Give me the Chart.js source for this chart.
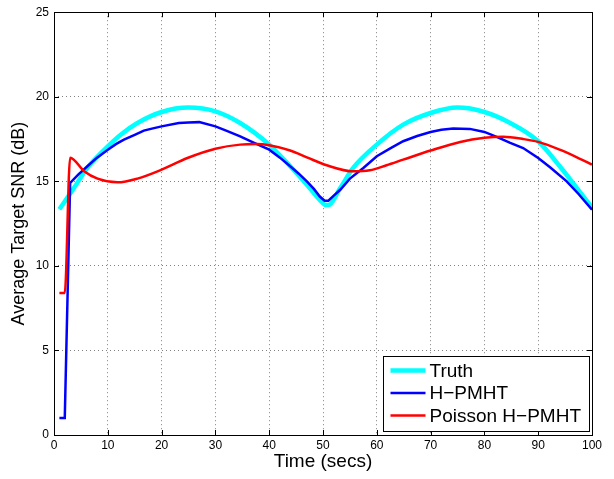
<!DOCTYPE html>
<html>
<head>
<meta charset="utf-8">
<script src="https://cdn.jsdelivr.net/npm/chart.js@4.4.1/dist/chart.umd.min.js"></script>
<style>
  html, body { margin:0; padding:0; background:#fff; }
  #wrap { width:614px; height:479px; }
</style>
</head>
<body>
<div id="wrap"><canvas id="snr" width="614" height="479"></canvas></div>
<script>
// values
const truthTime = [1, 3.7, 6.2, 10, 12.4, 15.5, 20, 25, 30, 34.6, 40, 43.9, 47, 49.4, 50.5, 51, 53.2, 55.6, 60, 64.9, 70, 75, 80, 84.8, 90, 94, 97.2, 100];
const truthSnr  = [13.35, 14.6, 15.8, 17.07, 17.76, 18.45, 19.1, 19.36, 19.14, 18.45, 17.17, 15.89, 14.8, 13.9, 13.6, 13.6, 14.6, 15.79, 17.17, 18.35, 19.04, 19.36, 19.1, 18.45, 17.37, 15.89, 14.6, 13.45];

const hpmhtTime = [1, 2, 3, 4.5, 6.2, 8, 10, 11.5, 13, 15, 16.7, 18, 20, 23.2, 25, 27, 30, 32, 34.6, 37, 40, 42, 43.9, 45.5, 47, 48.3, 49.4, 50.3, 51, 52, 53.2, 55, 57.5, 60, 62.5, 64.9, 67.5, 70, 72, 74.2, 77.3, 80, 82.5, 84.8, 87.2, 90, 92.2, 95.3, 97.5, 100];
const hpmhtSnr  = [1.0, 1.0, 14.9, 15.4, 15.89, 16.4, 16.87, 17.2, 17.47, 17.75, 18.0, 18.1, 18.25, 18.45, 18.48, 18.5, 18.25, 18.0, 17.66, 17.3, 16.87, 16.4, 15.89, 15.45, 15.0, 14.55, 14.1, 13.85, 13.85, 14.15, 14.5, 15.16, 15.79, 16.48, 16.95, 17.37, 17.68, 17.92, 18.05, 18.12, 18.1, 17.92, 17.6, 17.27, 16.97, 16.38, 15.83, 15.0, 14.25, 13.32];

const poissonTime = [1, 2, 3, 5.6, 8.1, 11.8, 15.5, 20, 24.8, 30, 34.6, 37.7, 40, 43.9, 47, 50.7, 55.6, 58.7, 61.8, 64.9, 70, 75.5, 80, 83.5, 87.2, 90, 94, 97.2, 100];
const poissonSnr  = [8.4, 8.4, 16.4, 15.6, 15.16, 14.94, 15.16, 15.69, 16.38, 16.93, 17.17, 17.2, 17.13, 16.82, 16.42, 15.95, 15.59, 15.65, 15.95, 16.28, 16.82, 17.33, 17.57, 17.63, 17.5, 17.33, 16.87, 16.42, 15.99];

const seriesNames = ['Truth', 'H\u2212PMHT', 'Poisson H\u2212PMHT'];
const xTicks = [0, 10, 20, 30, 40, 50, 60, 70, 80, 90, 100];
const yTicks = [0, 5, 10, 15, 20, 25];

const FONT = "'Liberation Sans', Arial, Helvetica, sans-serif";

function pts(xs, ys){ return xs.map((x, i) => ({x, y: ys[i]})); }

// matlab style box, inward ticks and legend
const axesBox = {
  id: 'axesBox',
  afterDraw(chart){
    const ctx = chart.ctx, a = chart.chartArea;
    const xs = chart.scales.x, ys = chart.scales.y;
    ctx.save();
    ctx.strokeStyle = '#000';
    ctx.lineWidth = 1;
    ctx.beginPath();
    xTicks.forEach(v => {
      const px = Math.round(xs.getPixelForValue(v)) + 0.5;
      ctx.moveTo(px, a.bottom); ctx.lineTo(px, a.bottom - 5);
      ctx.moveTo(px, a.top); ctx.lineTo(px, a.top + 5);
    });
    yTicks.forEach(v => {
      const py = Math.round(ys.getPixelForValue(v)) + 0.5;
      ctx.moveTo(a.left, py); ctx.lineTo(a.left + 5, py);
      ctx.moveTo(a.right, py); ctx.lineTo(a.right - 5, py);
    });
    ctx.stroke();
    ctx.strokeRect(Math.round(a.left) + 0.5, Math.round(a.top) + 0.5,
                   Math.round(a.right - a.left), Math.round(a.bottom - a.top));

    // legend
    const w = 206, h = 75;
    const x0 = Math.round(a.right - 3 - w) + 0.5, y0 = Math.round(a.bottom - 4 - h) + 0.5;
    ctx.fillStyle = '#fff';
    ctx.fillRect(x0, y0, w, h);
    ctx.strokeRect(x0, y0, w, h);
    ctx.font = '19px ' + FONT;
    ctx.textBaseline = 'middle';
    ctx.textAlign = 'left';
    chart.data.datasets.forEach((ds, i) => {
      const y = y0 + 14 + i * 22.5;
      ctx.strokeStyle = ds.borderColor;
      ctx.lineWidth = ds.borderWidth;
      ctx.beginPath(); ctx.moveTo(x0 + 7, y); ctx.lineTo(x0 + 42, y); ctx.stroke();
      ctx.fillStyle = '#000';
      ctx.fillText(ds.label, x0 + 46, y + 1);
    });
    ctx.restore();
  }
};

const line = (label, data, color, width, order, smooth) => ({
  label, data, borderColor: color, backgroundColor: color, borderWidth: width,
  pointRadius: 0, fill: false, order,
  cubicInterpolationMode: smooth ? 'monotone' : 'default', tension: 0
});

new Chart(document.getElementById('snr'), {
  type: 'line',
  data: {
    datasets: [
      line(seriesNames[0], pts(truthTime, truthSnr), '#00ffff', 4.5, 3, true),
      line(seriesNames[1], pts(hpmhtTime, hpmhtSnr), '#0000ff', 2.5, 2, false),
      line(seriesNames[2], pts(poissonTime, poissonSnr), '#ff0000', 2.5, 1, true)
    ]
  },
  options: {
    responsive: false,
    animation: false,
    devicePixelRatio: 1,
    layout: { padding: { top: 11, right: 22, left: 0, bottom: 0 } },
    plugins: { legend: { display: false }, tooltip: { enabled: false } },
    scales: {
      x: {
        type: 'linear', min: 0, max: 100,
        afterBuildTicks: s => { s.ticks = xTicks.map(v => ({value: v})); },
        afterFit: s => { s.height = 44; },
        grid: { color: '#808080', lineWidth: 1, drawTicks: false },
        border: { display: false, dash: [1, 3] },
        ticks: { color: '#000', font: { family: FONT, size: 12 }, padding: 3, maxRotation: 0 },
        title: { display: true, text: 'Time (secs)', color: '#000',
                 font: { family: FONT, size: 19 }, padding: { top: 0, bottom: 6 } }
      },
      y: {
        type: 'linear', min: 0, max: 25,
        afterBuildTicks: s => { s.ticks = yTicks.map(v => ({value: v})); },
        afterFit: s => { s.width = 54; },
        grid: { color: '#808080', lineWidth: 1, drawTicks: false },
        border: { display: false, dash: [1, 3] },
        ticks: { color: '#000', font: { family: FONT, size: 12 }, padding: 5 },
        title: { display: true, text: 'Average Target SNR (dB)', color: '#000',
                 font: { family: FONT, size: 18 }, padding: { top: 8, bottom: 0 } }
      }
    }
  },
  plugins: [axesBox]
});
</script>
</body>
</html>
